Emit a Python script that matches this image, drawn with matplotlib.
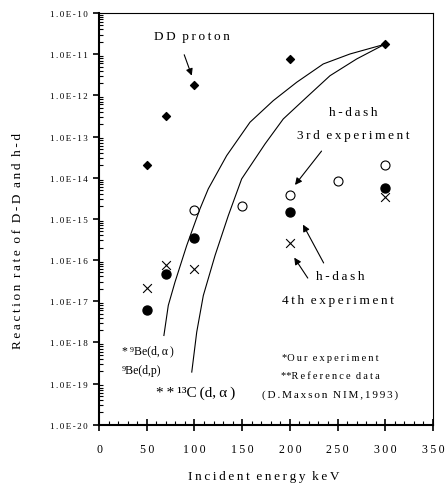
import numpy as np
import matplotlib.pyplot as plt
from matplotlib.ticker import FixedLocator, NullFormatter, MultipleLocator

plt.rcParams['font.family'] = ['Liberation Serif', 'DejaVu Serif']

# DD proton
dd_e = [50, 70, 100, 200, 300]
dd_r = [2.0e-14, 3.2e-13, 1.8e-12, 7.8e-12, 1.8e-11]
# h-dash, 3rd experiment (open circles)
open_e = [100, 150, 200, 250, 300]
open_r = [1.6e-15, 2.0e-15, 3.7e-15, 8.5e-15, 2.0e-14]
# h-dash, 4th experiment (filled circles)
fill_e = [50, 70, 100, 200, 300]
fill_r = [6.0e-18, 4.5e-17, 3.5e-16, 1.5e-15, 5.5e-15]
# crosses
x_e = [50, 70, 100, 200, 300]
x_r = [2.1e-17, 7.6e-17, 6.1e-17, 2.6e-16, 3.4e-15]
# reference curves: 9Be(d,a)/9Be(d,p) and 13C(d,a)
be_e = [68, 72.6, 79.6, 91.9, 105.8, 114.5, 133.8, 158.2, 182.6, 207.2, 235, 263, 298]
be_r = [1.47e-18, 7.9e-18, 2.9e-17, 2.25e-16, 1.75e-15, 5.35e-15, 3.44e-14, 2.22e-13,
        7.43e-13, 2.08e-12, 5.78e-12, 1.01e-11, 1.7e-11]
c_e = [97.2, 102.4, 109.3, 121.6, 135.5, 149.5, 174, 193.1, 217.6, 242.1, 270, 298]
c_r = [1.9e-19, 1.78e-18, 1.37e-17, 1.29e-16, 1.2e-15, 9.35e-15, 6.61e-14, 2.67e-13,
       9.0e-13, 3.0e-12, 7.64e-12, 1.67e-11]

THIN = '\u2009'
SIXTH = '\u2006'
GAP = '\u2002'


def sp(s, c=THIN):
    # letter-spaced text, as in the original
    return GAP.join(c.join(w) for w in s.split(' '))


fig = plt.figure(figsize=(4.45, 4.89), dpi=100)
ax = fig.add_axes([0.2225, 0.1294, 0.7505, 0.842])

ax.plot(be_e, be_r, color='black', lw=0.8)
ax.plot(c_e, c_r, color='black', lw=0.8)
ax.scatter(dd_e, dd_r, marker='D', s=16, color='black', zorder=3)
ax.scatter(open_e, open_r, marker='o', s=42, facecolors='white', edgecolors='black', linewidths=0.8, zorder=3)
ax.scatter(fill_e, fill_r, marker='o', s=42, color='black', zorder=3)
ax.scatter(x_e, x_r, marker='x', s=40, color='black', linewidths=0.8, zorder=3)

ax.set_yscale('log')
ax.set_xlim(0, 350)
ax.set_ylim(1e-20, 1e-10)
ax.xaxis.set_minor_locator(MultipleLocator(10))
ax.set_xticks(range(0, 351, 50))
ax.set_xticklabels([sp(str(v)) for v in range(0, 351, 50)])
ax.yaxis.set_major_locator(FixedLocator([10.0**k for k in range(-20, -9)]))
ax.yaxis.set_minor_locator(FixedLocator([m * 10.0**k for k in range(-20, -10) for m in range(2, 10)]))
ax.yaxis.set_minor_formatter(NullFormatter())
ax.set_yticklabels([sp('1.0E%d' % k, SIXTH) for k in range(-20, -9)])
ax.tick_params(axis='y', which='major', direction='out', length=4, width=1.2, labelsize=6.5, pad=4)
ax.tick_params(axis='y', which='minor', direction='in', length=3, width=0.8)
ax.tick_params(axis='x', which='major', direction='inout', length=8, width=1.2, labelsize=8.5, pad=9)
ax.tick_params(axis='x', which='minor', direction='in', length=3, width=0.8)
for s in ['left', 'bottom']:
    ax.spines[s].set_linewidth(1.5)
for s in ['top', 'right']:
    ax.spines[s].set_linewidth(0.8)

ax.set_xlabel(sp('Incident energy') + GAP + sp('keV'), fontsize=9.5)
ax.xaxis.set_label_coords(0.494, -0.11)
ax.set_ylabel(sp('Reaction rate of D-D and h-d'), fontsize=9.5, va='center')
ax.yaxis.set_label_coords(-0.2425, 0.449)

ap = dict(arrowstyle='-|>', color='black', lw=0.8, mutation_scale=10)
ax.text(97.5, 2.8e-11, sp('DD proton'), ha='center', va='center', fontsize=9.5)
ax.annotate('', xy=(98.2, 2.6e-12), xytext=(88.3, 1.12e-11), arrowprops=ap)

ax.text(266, 4.0e-13, sp('h-dash'), ha='center', va='center', fontsize=9.5)
ax.text(266, 1.1e-13, sp('3rd experiment'), ha='center', va='center', fontsize=9.5)
ax.annotate('', xy=(203.6, 5.9e-15), xytext=(235, 5.0e-14), arrowprops=ap)

ax.text(252.6, 4.2e-17, sp('h-dash'), ha='center', va='center', fontsize=9.5)
ax.text(250.5, 1.07e-17, sp('4th experiment'), ha='center', va='center', fontsize=9.5)
ax.annotate('', xy=(212.4, 8.3e-16), xytext=(236.8, 7.4e-17), arrowprops=ap)
ax.annotate('', xy=(203, 1.3e-16), xytext=(220.4, 3.2e-17), arrowprops=ap)

ax.text(23.7, 6.6e-19, '*\u2006\u2079Be(d,\u2006\u03b1\u2006)', ha='left', va='center', fontsize=8.5)
ax.text(23.7, 2.1e-19, '\u2079Be(d,p)', ha='left', va='center', fontsize=8.5)
ax.text(60, 6.3e-20, '*\u2009*\u2009\u00b9\u00b3C\u2009(d,\u2009\u03b1\u2009)', ha='left', va='center', fontsize=11)

ax.text(242, 4.2e-19, '*' + sp('Our experiment'), ha='center', va='center', fontsize=7.5)
ax.text(242, 1.6e-19, '**' + sp('Reference data'), ha='center', va='center', fontsize=7.5)
ax.text(242, 5.6e-20, sp('(D.Maxson NIM,1993)', SIXTH), ha='center', va='center', fontsize=8)

fig.savefig('out.png', dpi=100)
